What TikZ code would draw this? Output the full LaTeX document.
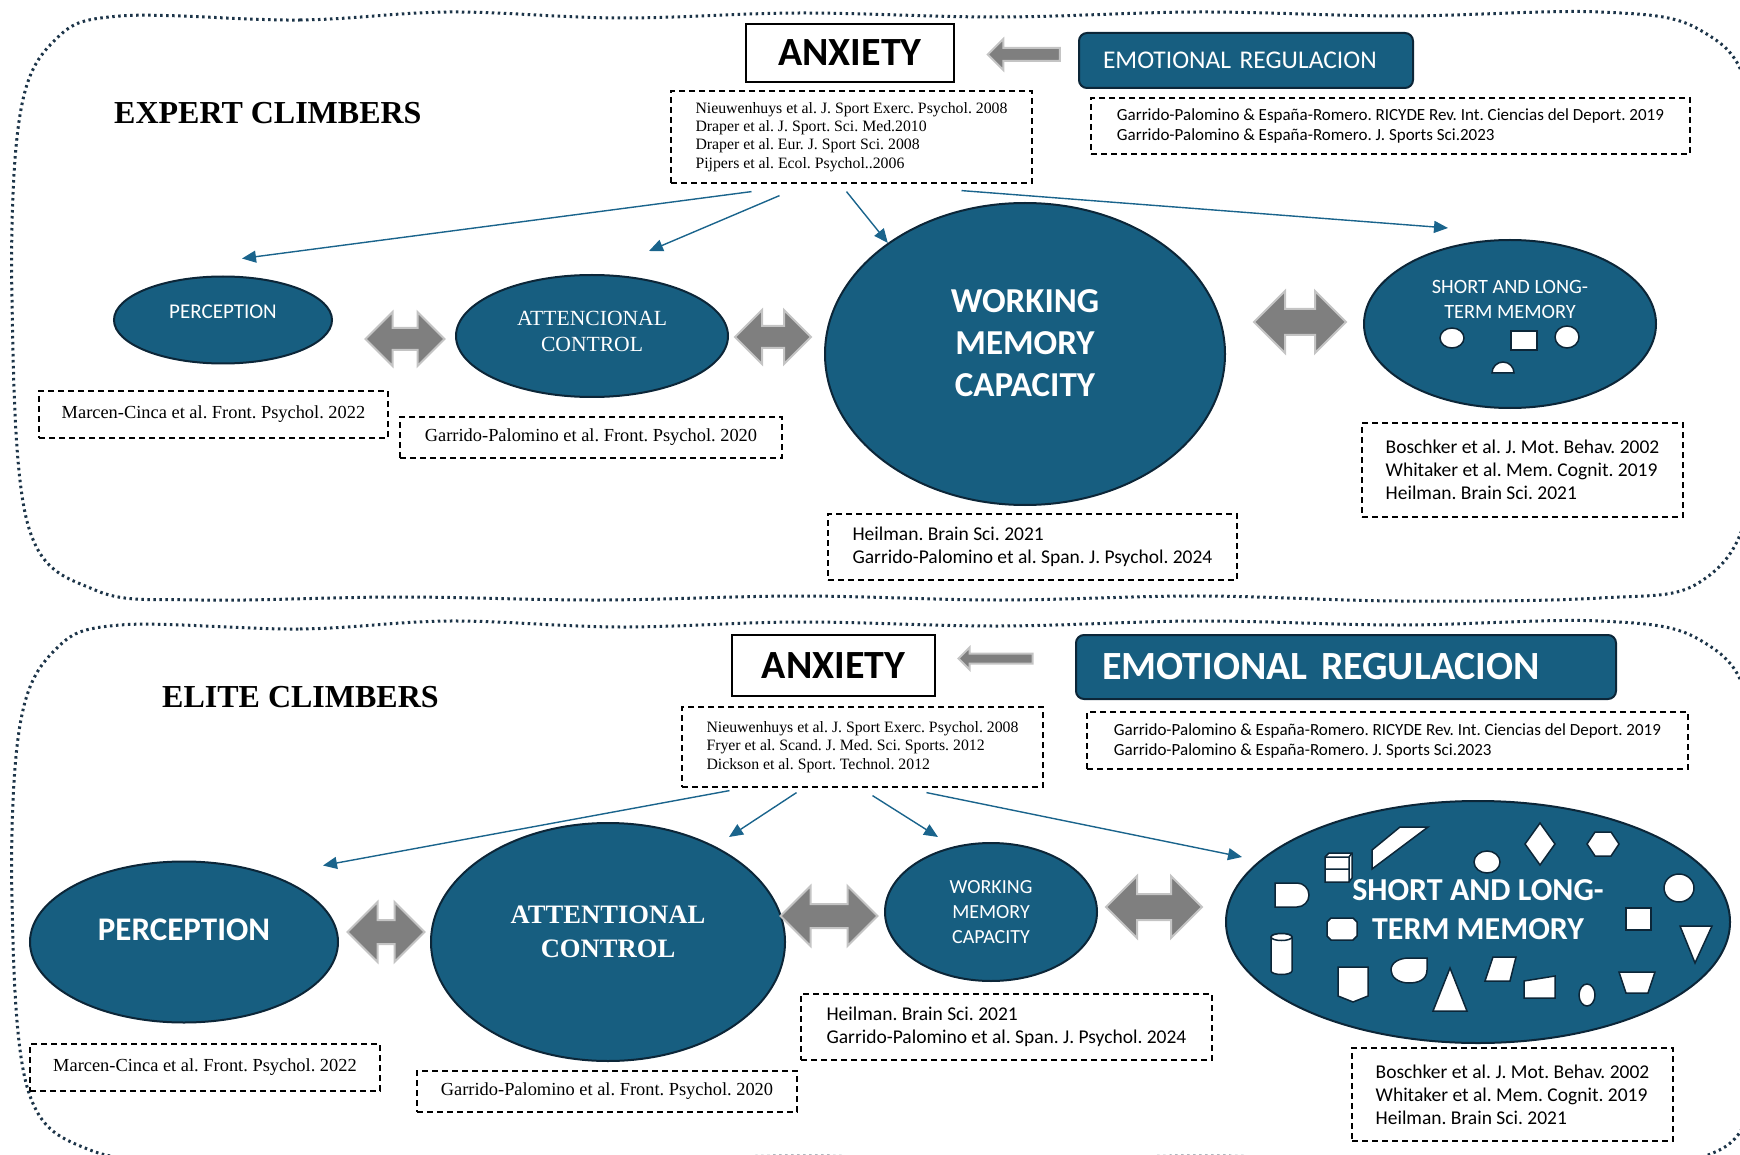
\documentclass[tikz,border=0pt]{standalone}
\usepackage{fontspec}
\setmainfont{Liberation Serif}
\setsansfont{Carlito}
\usetikzlibrary{arrows.meta}
\usetikzlibrary{positioning}
\usetikzlibrary{shapes, shapes.geometric, shapes.arrows}

\definecolor{tealfill}{RGB}{23,94,128}
\definecolor{ovaledge}{RGB}{12,38,56}
\definecolor{arrowline}{RGB}{26,100,140}
\definecolor{dotnavy}{RGB}{28,52,72}
\definecolor{blockgray}{RGB}{127,127,127}
\definecolor{blockedge}{RGB}{196,196,196}

\begin{document}
\frenchspacing
\begin{tikzpicture}[
        x=1pt, y=-1pt,
        oval/.style={ellipse, draw=ovaledge, line width=2pt, fill=tealfill, text=white, align=center, inner sep=0pt},
        citebox/.style={draw, dash pattern=on 6pt off 4pt, line width=1.2pt, align=left, inner sep=0pt},
        headbox/.style={draw, line width=1.5pt, inner sep=0pt, font=\sffamily\bfseries\fontsize{40}{48}\selectfont},
        embox/.style={draw=ovaledge, line width=2pt, fill=tealfill, rounded corners=8pt, text=white, align=left, inner ysep=0pt},
        twoway/.style={double arrow, fill=blockgray, draw=blockedge, line width=2pt, inner xsep=0pt},
        oneway/.style={single arrow, rotate=180, fill=blockgray, draw=blockedge, line width=2pt, inner xsep=0pt},
        infl/.style={-{Triangle[length=14pt, width=12pt]}, draw=arrowline, line width=1.4pt},
        shp/.style={fill=white, draw=ovaledge, line width=1.5pt},
        panel/.style={draw=dotnavy, line width=3pt, dash pattern=on 2.5pt off 3.5pt}
    ]
    \useasboundingbox (0,0) rectangle (1740,1155);

    % Panels
    \draw[panel] plot[smooth cycle, tension=0.6] coordinates {(120,16) (300,20) (450,12) (620,18) (800,13) (1000,17) (1200,12) (1400,16) (1600,12) (1700,30) (1750,100) (1756,300) (1750,500) (1700,582) (1600,598) (1400,601) (1200,596) (1000,600) (800,596) (600,600) (400,597) (200,600) (95,590) (28,525) (12,300) (20,115) (55,40)};
    \draw[panel] plot[smooth cycle, tension=0.6] coordinates {(120,625) (300,629) (450,621) (620,627) (800,622) (1000,626) (1200,621) (1400,625) (1600,621) (1700,640) (1750,710) (1756,900) (1752,1100) (1700,1158) (1600,1157) (1400,1160) (1200,1156) (1000,1160) (800,1156) (600,1160) (400,1157) (200,1160) (90,1150) (28,1090) (12,900) (20,725) (55,650)};

    % ---------------- Expert climbers ----------------
    \node[anchor=west, inner sep=0pt, font=\rmfamily\bfseries\fontsize{32}{38}\selectfont] (expA) at (114,113) {EXPERT CLIMBERS};

    \node[headbox, minimum width=208pt, minimum height=58pt] (anxA) at (850,53) {ANXIETY};
    \node[embox, text width=286pt, inner xsep=24pt, minimum height=55pt, font=\sffamily\fontsize{25.5}{30}\selectfont] (emA) at (1246,60.5) {EMOTIONAL REGULACION};
    \node[oneway, minimum height=72pt, inner ysep=5.5pt, single arrow head extend=9pt] (arA) at (1027,54.5) {};

    \node[citebox, minimum width=361pt, minimum height=92pt, font=\rmfamily\fontsize{15.8}{18.3}\selectfont] (anxcitA) at (851.5,137) {Nieuwenhuys et al. J. Sport Exerc. Psychol. 2008\\Draper et al. J. Sport. Sci. Med.2010\\Draper et al. Eur. J. Sport Sci. 2008\\Pijpers et al. Ecol. Psychol..2006};
    \node[citebox, minimum width=599pt, minimum height=56pt, font=\sffamily\fontsize{17}{20}\selectfont] (emcitA) at (1390.5,126) {Garrido-Palomino \& España-Romero. RICYDE Rev. Int. Ciencias del Deport. 2019\\Garrido-Palomino \& España-Romero. J. Sports Sci.2023};

    % Ellipses
    \node[oval, minimum width=218pt, minimum height=87pt, text depth=16pt, font=\sffamily\fontsize{21}{25}\selectfont] (percA) at (223,320) {PERCEPTION};
    \node[oval, minimum width=272pt, minimum height=122pt, text depth=10pt, font=\rmfamily\fontsize{21.6}{26}\selectfont] (attA) at (592,336) {ATTENCIONAL\\CONTROL};
    \node[oval, minimum width=400pt, minimum height=302pt, text depth=22pt, font=\sffamily\bfseries\fontsize{35}{42}\selectfont] (wmA) at (1025,354) {WORKING\\MEMORY\\CAPACITY};
    \node[oval, minimum width=292pt, minimum height=168pt, text depth=49pt, font=\sffamily\fontsize{20.3}{25}\selectfont] (stA) at (1510,324) {SHORT AND LONG-\\TERM MEMORY};

    \node[twoway, minimum height=79pt, inner ysep=10pt, double arrow head extend=16pt] (dA1) at (405,339) {};
    \node[twoway, minimum height=76pt, inner ysep=10pt, double arrow head extend=16pt] (dA2) at (773,337) {};
    \node[twoway, minimum height=92pt, inner ysep=12pt, double arrow head extend=18pt] (dA3) at (1300,322) {};

    % Shapes in the memory ellipse
    \filldraw[shp] (1452,338) ellipse [x radius=12, y radius=10];
    \filldraw[shp] (1511,331) rectangle (1537,350);
    \filldraw[shp] (1567,337) ellipse [x radius=12, y radius=11];
    \filldraw[shp] (1492,373) arc [start angle=180, end angle=360, radius=11] -- cycle;

    % Citations
    \node[citebox, minimum width=349pt, minimum height=47pt, font=\rmfamily\fontsize{18.4}{22}\selectfont] (marcA) at (213.5,414.5) {Marcen-Cinca et al. Front. Psychol. 2022};
    \node[citebox, minimum width=382pt, minimum height=41pt, font=\rmfamily\fontsize{18.4}{22}\selectfont] (garrA) at (591,437.5) {Garrido-Palomino et al. Front. Psychol. 2020};
    \node[citebox, minimum width=409pt, minimum height=66pt, font=\sffamily\fontsize{19.5}{23}\selectfont] (wmcitA) at (1032.5,547) {Heilman. Brain Sci. 2021\\Garrido-Palomino et al. Span. J. Psychol. 2024};
    \node[citebox, minimum width=321pt, minimum height=94pt, font=\sffamily\fontsize{19.5}{23}\selectfont] (stcitA) at (1522.5,470) {Boschker et al. J. Mot. Behav. 2002\\Whitaker et al. Mem. Cognit. 2019\\Heilman. Brain Sci. 2021};

    % Arrows
    \draw[infl] ([xshift=-100pt, yshift=-8pt]anxcitA.south) -- ([xshift=19pt, yshift=17pt]percA.north);
    \draw[infl] ([xshift=-72pt, yshift=-12pt]anxcitA.south) -- ([xshift=57pt, yshift=23pt]attA.north);
    \draw[infl] ([xshift=-5pt, yshift=-8pt]anxcitA.south) -- (wmA.141);
    \draw[infl] ([xshift=110pt, yshift=-7pt]anxcitA.south) -- ([xshift=-62pt, yshift=11pt]stA.north);

    % ---------------- Elite climbers ----------------
    \node[anchor=west, inner sep=0pt, font=\rmfamily\bfseries\fontsize{32}{38}\selectfont] (eliB) at (162,697) {ELITE CLIMBERS};

    \node[headbox, minimum width=203pt, minimum height=61pt] (anxB) at (833.5,665.5) {ANXIETY};
    \node[embox, text width=488pt, inner xsep=26pt, minimum height=64pt, font=\sffamily\bfseries\fontsize{40}{48}\selectfont] (emB) at (1346,667) {EMOTIONAL REGULACION};
    \node[oneway, minimum height=74pt, inner ysep=4pt, single arrow head extend=6pt] (arB) at (998,658.5) {};

    \node[citebox, minimum width=361pt, minimum height=80pt, font=\rmfamily\fontsize{15.8}{18.3}\selectfont] (anxcitB) at (862.5,747) {Nieuwenhuys et al. J. Sport Exerc. Psychol. 2008\\Fryer et al. Scand. J. Med. Sci. Sports. 2012\\Dickson et al. Sport. Technol. 2012};
    \node[citebox, minimum width=601pt, minimum height=57pt, font=\sffamily\fontsize{17}{20}\selectfont] (emcitB) at (1387.5,740.5) {Garrido-Palomino \& España-Romero. RICYDE Rev. Int. Ciencias del Deport. 2019\\Garrido-Palomino \& España-Romero. J. Sports Sci.2023};

    % Ellipses
    \node[oval, minimum width=308pt, minimum height=161pt, text depth=24pt, font=\sffamily\bfseries\fontsize{33}{40}\selectfont] (percB) at (184,942) {PERCEPTION};
    \node[oval, minimum width=354pt, minimum height=238pt, text depth=20pt, font=\rmfamily\bfseries\fontsize{26.6}{34}\selectfont] (attB) at (608,942) {ATTENTIONAL\\CONTROL};
    \node[oval, minimum width=212pt, minimum height=138pt, font=\sffamily\fontsize{20}{25}\selectfont] (wmB) at (991,912) {WORKING\\MEMORY\\CAPACITY};
    \node[oval, minimum width=504pt, minimum height=242pt, text depth=24pt, font=\sffamily\bfseries\fontsize{32}{39}\selectfont] (stB) at (1478,922) {SHORT AND LONG-\\TERM MEMORY};

    \node[twoway, minimum height=77pt, inner ysep=11pt, double arrow head extend=18pt] (dB1) at (386,932) {};
    \node[twoway, minimum height=97pt, inner ysep=11pt, double arrow head extend=18pt] (dB2) at (829,916) {};
    \node[twoway, minimum height=96pt, inner ysep=12pt, double arrow head extend=18pt] (dB3) at (1154,907) {};

    % Shapes in the memory ellipse
    \filldraw[shp] (1325,857) -- (1329,853) -- (1352,853) -- (1352,878) -- (1349,882) -- (1325,882) -- cycle;
    \draw[shp, fill=none] (1325,857) -- (1349,857) -- (1352,853) (1349,857) -- (1349,882) (1325,869) -- (1349,869);
    \filldraw[shp] (1372,850) -- (1400,827) -- (1428,827) -- (1372,869) -- cycle;
    \filldraw[shp] (1487,862) ellipse [x radius=13, y radius=11];
    \filldraw[shp] (1540,823) -- (1555,844) -- (1540,865) -- (1525,844) -- cycle;
    \filldraw[shp] (1587,844) -- (1595,832) -- (1611,832) -- (1619,844) -- (1611,856) -- (1595,856) -- cycle;
    \filldraw[shp] (1275,883) -- (1297,883) arc [start angle=-90, end angle=90, radius=12] -- (1275,907) -- cycle;
    \filldraw[shp] (1679,888) ellipse [x radius=15, y radius=14];
    \filldraw[shp] (1331,918) -- (1353,918) -- (1357,922) -- (1357,936) -- (1353,940) -- (1331,940) -- (1327,936) -- (1327,922) -- cycle;
    \filldraw[shp] (1626,908) rectangle (1651,930);
    \filldraw[shp] (1680,926) -- (1712,926) -- (1695,963) -- cycle;
    \filldraw[shp] (1271,937) -- (1271,971) arc [start angle=180, end angle=0, x radius=10.5, y radius=3.5] -- (1292,937) arc [start angle=0, end angle=-180, x radius=10.5, y radius=3.5] -- cycle;
    \draw[shp] (1281.5,937) ellipse [x radius=10.5, y radius=3.5];
    \filldraw[shp] (1338,967) -- (1368,967) -- (1368,996) -- (1353,1002) -- (1338,996) -- cycle;
    \filldraw[shp] (1427,958) -- (1427,970) .. controls (1427,980) and (1418,983) .. (1409,983) .. controls (1398,983) and (1391,977) .. (1391,970) .. controls (1391,962) and (1400,958) .. (1409,958) -- cycle;
    \filldraw[shp] (1450,968) -- (1467,1011) -- (1433,1011) -- cycle;
    \filldraw[shp] (1493,957) -- (1516,957) -- (1510,981) -- (1485,981) -- cycle;
    \filldraw[shp] (1524,981) -- (1555,976) -- (1555,998) -- (1524,998) -- cycle;
    \filldraw[shp] (1587,995) ellipse [x radius=8, y radius=11];
    \filldraw[shp] (1619,972) -- (1655,972) -- (1648,993) -- (1626,993) -- cycle;

    % Citations
    \node[citebox, minimum width=350pt, minimum height=47pt, font=\rmfamily\fontsize{18.4}{22}\selectfont] (marcB) at (205,1067.5) {Marcen-Cinca et al. Front. Psychol. 2022};
    \node[citebox, minimum width=380pt, minimum height=41pt, font=\rmfamily\fontsize{18.4}{22}\selectfont] (garrB) at (607,1091.5) {Garrido-Palomino et al. Front. Psychol. 2020};
    \node[citebox, minimum width=411pt, minimum height=66pt, font=\sffamily\fontsize{19.5}{23}\selectfont] (wmcitB) at (1006.5,1027) {Heilman. Brain Sci. 2021\\Garrido-Palomino et al. Span. J. Psychol. 2024};
    \node[citebox, minimum width=321pt, minimum height=93pt, font=\sffamily\fontsize{19.5}{23}\selectfont] (stcitB) at (1512.5,1094.5) {Boschker et al. J. Mot. Behav. 2002\\Whitaker et al. Mem. Cognit. 2019\\Heilman. Brain Sci. 2021};

    % Arrows
    \draw[infl] ([xshift=-133pt, yshift=-3pt]anxcitB.south) -- ([xshift=139pt, yshift=-5pt]percB.north);
    \draw[infl] ([xshift=-66pt, yshift=-5pt]anxcitB.south) -- ([xshift=121pt, yshift=-15pt]attB.north);
    \draw[infl] ([xshift=10pt, yshift=-8pt]anxcitB.south) -- ([xshift=-53pt, yshift=5pt]wmB.north);
    \draw[infl] ([xshift=64pt, yshift=-5pt]anxcitB.south) -- ([xshift=17pt, yshift=65pt]stB.west);

\end{tikzpicture}
\end{document}
